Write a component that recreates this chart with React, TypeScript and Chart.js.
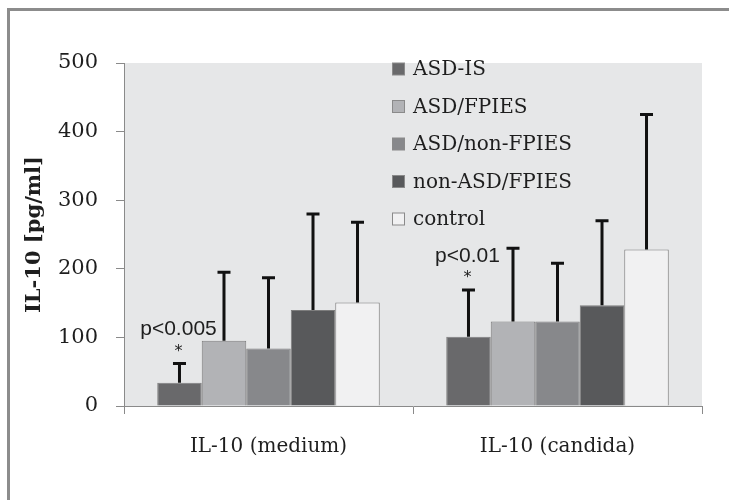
import React, { useEffect, useRef } from "react";
import { Chart, registerables } from "chart.js";

Chart.register(...registerables);

const categories = ["IL-10 (medium)", "IL-10 (candida)"];
const seriesNames = ["ASD-IS", "ASD/FPIES", "ASD/non-FPIES", "non-ASD/FPIES", "control"];
const asdIs = [34, 101];
const asdFpies = [95, 123];
const asdNonFpies = [84, 123];
const nonAsdFpies = [140, 147];
const control = [151, 228];
const asdIsSd = [28, 68];
const asdFpiesSd = [100, 107];
const asdNonFpiesSd = [103, 85];
const nonAsdFpiesSd = [140, 123];
const controlSd = [117, 197];
const seriesColors = ["#69696b", "#b2b3b6", "#87888b", "#58595b", "#f1f1f2"];
const yTicks = [0, 100, 200, 300, 400, 500];
const yTitle = "IL-10 [pg/ml]";
const annotations = [
  { dataset: 0, index: 0, text: "p<0.005" },
  { dataset: 0, index: 1, text: "p<0.01" },
];

const values = [asdIs, asdFpies, asdNonFpies, nonAsdFpies, control];
const sds = [asdIsSd, asdFpiesSd, asdNonFpiesSd, nonAsdFpiesSd, controlSd];

const TEXT = "#1e1e1e";
const AXIS = "#8a8a8a";

const framePlugin = {
  id: "frame",
  beforeDraw(chart: any) {
    const { ctx, chartArea } = chart;
    ctx.save();
    ctx.fillStyle = "#ffffff";
    ctx.fillRect(0, 0, chart.width, chart.height);
    ctx.strokeStyle = "#8c8c8c";
    ctx.lineWidth = 3;
    ctx.beginPath();
    ctx.moveTo(8.5, chart.height + 5);
    ctx.lineTo(8.5, 9.5);
    ctx.lineTo(chart.width + 5, 9.5);
    ctx.stroke();
    ctx.fillStyle = "#e6e7e8";
    ctx.fillRect(chartArea.left, chartArea.top, chartArea.right - chartArea.left, chartArea.bottom - chartArea.top);
    ctx.restore();
  },
};

const errorBarPlugin = {
  id: "errorBars",
  afterDatasetsDraw(chart: any) {
    const { ctx } = chart;
    const yScale = chart.scales.y;
    ctx.save();
    ctx.strokeStyle = "#111111";
    ctx.lineWidth = 3;
    chart.data.datasets.forEach((ds: any, i: number) => {
      const meta = chart.getDatasetMeta(i);
      meta.data.forEach((el: any, j: number) => {
        const top = yScale.getPixelForValue(values[i][j] + sds[i][j]);
        ctx.beginPath();
        ctx.moveTo(el.x, el.y);
        ctx.lineTo(el.x, top);
        ctx.moveTo(el.x - 6.5, top);
        ctx.lineTo(el.x + 6.5, top);
        ctx.stroke();
      });
    });
    ctx.fillStyle = TEXT;
    ctx.textAlign = "center";
    ctx.textBaseline = "middle";
    annotations.forEach((a) => {
      const el = chart.getDatasetMeta(a.dataset).data[a.index];
      const top = yScale.getPixelForValue(values[a.dataset][a.index] + sds[a.dataset][a.index]);
      ctx.font = "16px 'DejaVu Sans'";
      ctx.fillText("*", el.x - 1, top - 12);
      ctx.font = "21px 'Liberation Sans'";
      ctx.fillText(a.text, el.x - 1, top - 34);
    });
    ctx.restore();
  },
};

const legendPlugin = {
  id: "customLegend",
  afterDraw(chart: any) {
    const { ctx, chartArea } = chart;
    ctx.save();
    ctx.font = "20px 'DejaVu Serif'";
    ctx.textAlign = "left";
    ctx.textBaseline = "middle";
    chart.data.datasets.forEach((ds: any, i: number) => {
      const cy = chartArea.top + 6 + i * 37.5;
      const x = chartArea.left + 268.5;
      ctx.fillStyle = ds.backgroundColor;
      ctx.fillRect(x, cy - 6, 12, 12);
      ctx.strokeStyle = "#8a8a8a";
      ctx.lineWidth = 1;
      ctx.strokeRect(x, cy - 6, 12, 12);
      ctx.fillStyle = TEXT;
      ctx.fillText(ds.label, x + 20.5, cy + 1);
    });
    ctx.restore();
  },
};

export default function App() {
  const ref = useRef<HTMLCanvasElement>(null);
  useEffect(() => {
    if (!ref.current) return;
    const chart = new Chart(ref.current, {
      type: "bar",
      data: {
        labels: categories,
        datasets: seriesNames.map((name, i) => ({
          label: name,
          data: values[i],
          backgroundColor: seriesColors[i],
          borderColor: "#7d7d7d",
          borderWidth: 1,
          categoryPercentage: 0.77,
          barPercentage: 1.0,
        })),
      },
      options: {
        animation: false,
        responsive: false,
        devicePixelRatio: 1,
        layout: { padding: { top: 63, right: 27, left: 0, bottom: 0 } },
        plugins: { legend: { display: false }, tooltip: { enabled: false } },
        scales: {
          x: {
            grid: { display: true, offset: true, drawOnChartArea: false, drawTicks: true, tickLength: 8, color: AXIS },
            border: { display: true, color: AXIS, width: 1 },
            ticks: { color: TEXT, font: { family: "'DejaVu Serif'", size: 20 }, padding: 21, maxRotation: 0 },
            afterFit: (s: any) => { s.height = 94; },
          },
          y: {
            min: 0,
            max: 500,
            afterBuildTicks: (s: any) => { s.ticks = yTicks.map((v) => ({ value: v })); },
            grid: { display: true, drawOnChartArea: false, drawTicks: true, tickLength: 8, color: AXIS },
            border: { display: true, color: AXIS, width: 1 },
            ticks: { color: TEXT, font: { family: "'DejaVu Serif'", size: 21 }, padding: 18 },
            title: {
              display: true,
              text: yTitle,
              color: TEXT,
              font: { family: "'DejaVu Serif'", size: 21, weight: "bold" },
              padding: { top: 22, bottom: 0 },
            },
            afterFit: (s: any) => { s.width = 124; },
          },
        },
      },
      plugins: [framePlugin, errorBarPlugin, legendPlugin],
    });
    return () => chart.destroy();
  }, []);
  return (
    <div style={{ position: "absolute", left: 0, top: 0, width: 729, height: 500 }}>
      <canvas ref={ref} width={729} height={500} style={{ display: "block" }} />
    </div>
  );
}
